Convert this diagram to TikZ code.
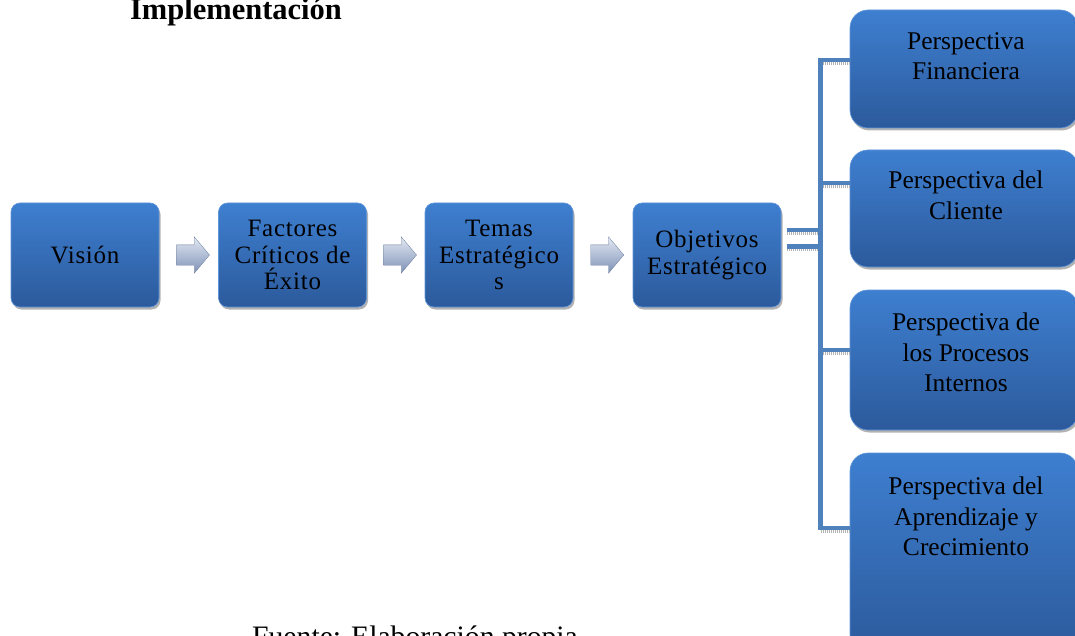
\documentclass[tikz,border=0pt]{standalone}
\usepackage{fontspec}
\setmainfont{Liberation Serif}
\newfontfamily\boxfont[LetterSpace=3]{Liberation Serif}
\usetikzlibrary{shapes.arrows,shadows,calc}
\definecolor{boxtop}{RGB}{62,127,208}
\definecolor{boxbot}{RGB}{44,90,156}
\definecolor{boxedge}{RGB}{95,150,218}
\definecolor{linkc}{RGB}{79,129,189}
\definecolor{arrtop}{RGB}{226,233,243}
\definecolor{arrbot}{RGB}{126,145,182}
\begin{document}
\begin{tikzpicture}[x=1pt,y=-1pt,
  lbox/.style={rounded corners=9pt, top color=boxtop, bottom color=boxbot,
    draw=boxedge, line width=0.6pt, minimum width=148pt, minimum height=104pt,
    inner sep=0pt, align=center, font=\boxfont\fontsize{25}{26.7}\selectfont,
    drop shadow={shadow xshift=1.5pt, shadow yshift=-2.5pt, fill=black, opacity=0.3}},
  rbox/.style={rounded corners=18pt, top color=boxtop, bottom color=boxbot,
    draw=boxedge, line width=0.6pt, minimum width=228pt, inner sep=0pt,
    drop shadow={shadow xshift=1.5pt, shadow yshift=-2.5pt, fill=black, opacity=0.3}},
  rtext/.style={align=center, inner sep=0pt, font=\fontsize{25.5}{30.5}\selectfont},
  flow/.style={single arrow, single arrow head extend=8pt, single arrow tip angle=100,
    minimum height=33pt, inner xsep=0pt, inner ysep=10pt,
    top color=arrtop, bottom color=arrbot, draw=arrbot!85!black, line width=0.3pt},
  link/.style={draw=linkc, line width=4.5pt},
  linkshadow/.style={draw=gray!60, line width=2.5pt, dash pattern=on 1pt off 1pt},
]
\useasboundingbox (0,0) rectangle (1075,636);
\fill[white] (0,0) rectangle (1075,636);
\clip (0,0) rectangle (1075,636);

% title and source
\node[anchor=base, inner sep=0pt, font=\bfseries\fontsize{30.5}{36}\selectfont] (title) at (236,20) {Implementación};
\node[anchor=base, inner sep=0pt, font=\fontsize{29.7}{35}\selectfont] (src) at (415,646.7) {Fuente: Elaboración propia};

% left chain
\node[lbox] (vis) at (85,255) {Visión};
\node[lbox] (fac) at (292.5,255) {Factores\\Críticos de\\Éxito};
\node[lbox] (tem) at (499,255) {Temas\\Estratégico\\s};
\node[lbox] (obj) at (707,255) {Objetivos\\Estratégico};

\node[flow] (a1) at ($(vis.east)!0.5!(fac.west)$) {};
\node[flow] (a2) at ($(fac.east)!0.5!(tem.west)$) {};
\node[flow] (a3) at ($(tem.east)!0.5!(obj.west)$) {};

% right boxes
\node[rbox, minimum height=118pt] (pf) at (964,69) {};
\node[rbox, minimum height=117pt] (pc) at (964,208.5) {};
\node[rbox, minimum height=140pt] (pp) at (964,360) {};
\node[rbox, minimum height=200pt] (pa) at (964,553) {};

\node[rtext] (pf-t) at (966,56) {Perspectiva\\Financiera};
\node[rtext] (pc-t) at (966,195.5) {Perspectiva del\\Cliente};
\node[rtext] (pp-t) at (966,352.5) {Perspectiva de\\los Procesos\\Internos};
\node[rtext] (pa-t) at (966,516.5) {Perspectiva del\\Aprendizaje y\\Crecimiento};

% connectors
\coordinate (b1) at (820.5,60);
\coordinate (b2) at (820.5,183);
\coordinate (b3) at (820.5,350);
\coordinate (b4) at (820.5,528);
\coordinate (e1) at (787,230);
\coordinate (e2) at (787,246.5);

\foreach \c/\n in {b1/pf,b2/pc,b3/pp,b4/pa}{
  \draw[linkshadow] ([yshift=-3.5pt]\c) -- ([yshift=-3.5pt]\c -| \n.west);
}
\draw[linkshadow] ([yshift=-3.5pt]e1) -- ([yshift=-3.5pt]e1 -| b1);
\draw[linkshadow] ([yshift=-3.5pt]e2) -- ([yshift=-3.5pt]e2 -| b1);

\draw[link] (b1 -| pf.west) -- (b1) -- (b4) -- (b4 -| pa.west);
\draw[link] (b2) -- (b2 -| pc.west);
\draw[link] (b3) -- (b3 -| pp.west);
\draw[link] (e1) -- (e1 -| b1);
\draw[link] (e2) -- (e2 -| b1);
\end{tikzpicture}
\end{document}
